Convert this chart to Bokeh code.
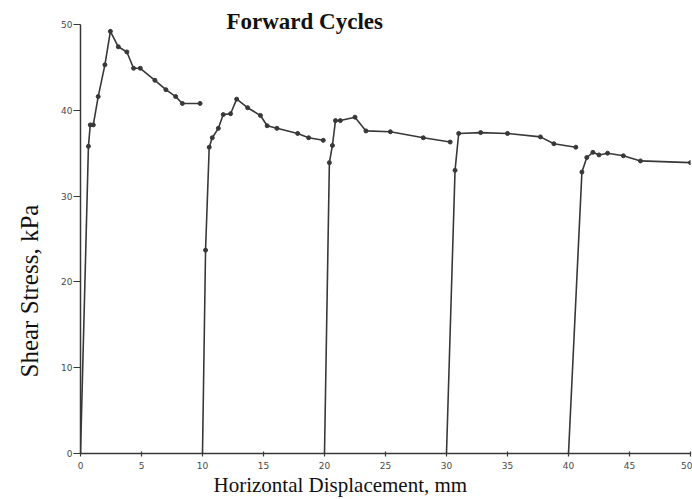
from bokeh.plotting import figure
from bokeh.models import Range1d, Title, FixedTicker
from bokeh.embed import file_html
from bokeh.resources import INLINE

# Cycle data: horizontal displacement (mm) vs shear stress (kPa)
cycle1_x = [0.0, 0.65, 0.8, 1.05, 1.45, 2.0, 2.45, 3.1, 3.8, 4.35, 4.9, 6.1, 7.0, 7.8, 8.35, 9.8]
cycle1_y = [0.0, 35.8, 38.3, 38.3, 41.6, 45.3, 49.2, 47.4, 46.8, 44.9, 44.9, 43.5, 42.4, 41.6, 40.8, 40.8]

cycle2_x = [10.0, 10.25, 10.55, 10.8, 11.3, 11.7, 12.3, 12.8, 13.7, 14.75, 15.3, 16.1, 17.8, 18.7, 19.9]
cycle2_y = [0.0, 23.7, 35.7, 36.8, 37.9, 39.5, 39.6, 41.3, 40.3, 39.4, 38.2, 37.9, 37.3, 36.8, 36.5]

cycle3_x = [20.0, 20.4, 20.65, 20.9, 21.3, 22.5, 23.4, 25.4, 28.1, 30.3]
cycle3_y = [0.0, 33.9, 35.9, 38.8, 38.8, 39.2, 37.6, 37.5, 36.8, 36.3]

cycle4_x = [30.0, 30.7, 31.0, 32.8, 35.0, 37.7, 38.8, 40.6]
cycle4_y = [0.0, 33.0, 37.3, 37.4, 37.3, 36.9, 36.1, 35.7]

cycle5_x = [40.0, 41.1, 41.5, 42.0, 42.5, 43.2, 44.5, 45.9, 50.0]
cycle5_y = [0.0, 32.8, 34.5, 35.1, 34.8, 35.0, 34.7, 34.1, 33.9]

x_ticks = [0, 5, 10, 15, 20, 25, 30, 35, 40, 45, 50]
y_ticks = [0, 10, 20, 30, 40, 50]

title_text = "Forward Cycles"
x_label = "Horizontal Displacement, mm"
y_label = "Shear Stress, kPa"

ink = "#383838"

p = figure(width=692, height=499, output_backend="svg", toolbar_location=None,
           x_range=Range1d(0, 50), y_range=Range1d(0, 50),
           min_border_left=80, min_border_right=2, min_border_top=24, min_border_bottom=46)
p.outline_line_color = None
p.background_fill_color = "white"
p.border_fill_color = "white"
p.grid.visible = False

for xs, ys in [(cycle1_x, cycle1_y), (cycle2_x, cycle2_y), (cycle3_x, cycle3_y),
               (cycle4_x, cycle4_y), (cycle5_x, cycle5_y)]:
    p.line(xs, ys, line_color=ink, line_width=1.6)
    p.scatter(xs[1:], ys[1:], size=4, color=ink)

for ax in (p.xaxis[0], p.yaxis[0]):
    ax.axis_line_color = ink
    ax.axis_line_width = 1.5
    ax.major_tick_line_color = ink
    ax.major_tick_line_width = 1.2
    ax.minor_tick_line_color = None
    ax.major_label_text_font = "DejaVu Sans"
    ax.major_label_text_font_size = "9px"
    ax.major_label_text_color = "#4a4a4a"

p.xaxis[0].ticker = FixedTicker(ticks=x_ticks)
p.yaxis[0].ticker = FixedTicker(ticks=y_ticks)
p.xaxis[0].major_tick_in = 2
p.xaxis[0].major_tick_out = 3
p.yaxis[0].major_tick_in = 0
p.yaxis[0].major_tick_out = 7
p.xaxis[0].major_label_standoff = 5
p.yaxis[0].major_label_standoff = 1

p.add_layout(Title(text=title_text, align="left", offset=146, vertical_align="bottom",
                   standoff=-18, text_font="Liberation Serif", text_font_style="bold",
                   text_font_size="23px", text_color="#111111"), "above")

p.add_layout(Title(text=x_label, align="left", offset=133, vertical_align="middle",
                   standoff=0, text_font="Liberation Serif", text_font_style="normal",
                   text_font_size="21px", text_color="#111111"), "below")

p.add_layout(Title(text=y_label, align="left", offset=76, vertical_align="middle",
                   standoff=29, text_font="Liberation Serif", text_font_style="normal",
                   text_font_size="25px", text_color="#111111"), "left")

open("out.html", "w").write(file_html(p, INLINE))
